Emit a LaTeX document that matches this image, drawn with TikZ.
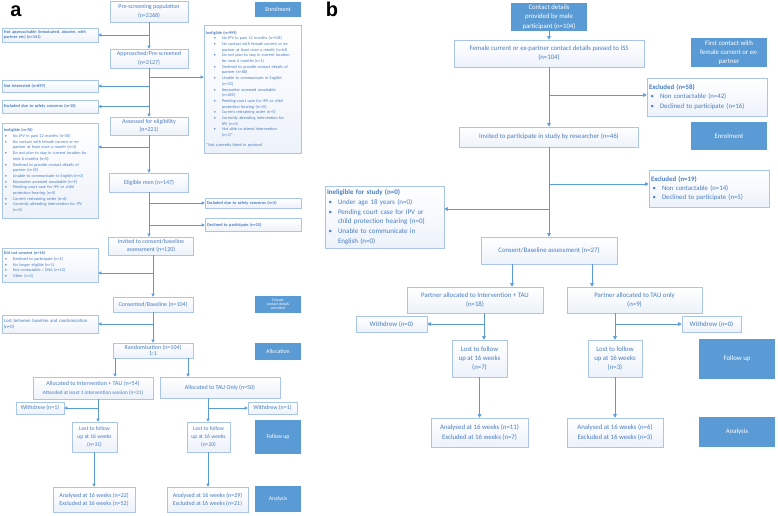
\documentclass[tikz,border=0pt]{standalone}
\usepackage{fontspec}
\setmainfont{Carlito}
\newfontfamily\lblfont{Liberation Sans}
\usetikzlibrary{arrows.meta}

\definecolor{linec}{HTML}{5B9BD5}
\definecolor{borderc}{HTML}{A9C5E8}
\definecolor{textc}{HTML}{4A7DC2}
\definecolor{boxbot}{HTML}{EDF2FA}
\definecolor{tagc}{HTML}{5B9BD5}

\setlength\parindent{0pt}
\newlength\bgap \setlength\bgap{6pt}
\newcommand\bitem[1]{\par\noindent\llap{\textbullet\hspace{\bgap}}#1}
\newcommand\fa{\fontsize{6}{8.4}\selectfont}
\newcommand\fas{\fontsize{4.2}{5.7}\selectfont}
\newcommand\fasb{\fontsize{4.3}{5.4}\selectfont\bfseries}
\newcommand\fb{\fontsize{6.8}{9.2}\selectfont}

\tikzset{
  sz/.style 2 args={minimum width=#1pt, minimum height=#2pt},
  box/.style={draw=borderc, line width=0.6pt, top color=white, bottom color=boxbot, text=textc, align=center, inner sep=1pt},
  lbox/.style={box, align=left, inner xsep=2pt, inner ysep=1.5pt},
  tag/.style={fill=tagc, text=white, align=center, inner sep=0.5pt},
  arr/.style={draw=linec, line width=0.6pt, -{Triangle[length=3pt,width=3pt]}},
  arrb/.style={arr, -{Triangle[length=3.6pt,width=3.6pt]}},
  panel/.style={font=\lblfont\bfseries\fontsize{20}{20}\selectfont, anchor=base, inner sep=0pt}
}

\begin{document}
\begin{tikzpicture}[x=1pt, y=-1pt]
  \useasboundingbox[fill=white] (0,0) rectangle (778,515);

  % Panel a
  \node[panel] (la) at (16,16) {a};

  \node[box, sz={78}{21}, font=\fa] (pre) at (149,11.5) {Pre-screening population\\(n=2268)};
  \node[box, sz={78}{19}, font=\fa] (appr) at (149,58.5) {Approached/Pre-screened\\(n=2127)};
  \node[box, sz={78}{18}, font=\fa] (assess) at (149,126) {Assessed for eligibility\\(n=221)};
  \node[box, sz={79}{19}, font=\fa] (elig) at (149,182.5) {Eligible men (n=147)};
  \node[box, sz={85}{18}, font=\fa] (invited) at (151,246) {Invited to consent/baseline\\assessment (n=120)};
  \node[box, sz={80}{15}, font=\fa] (consented) at (153,304.5) {Consented/Baseline (n=104)};
  \node[box, sz={80}{15}, font=\fontsize{6}{6.6}\selectfont] (random) at (153,350.5) {Randomisation (n=104)\\1:1};

  \node[box, sz={120}{22}, font=\fa] (allocI) at (93,388) {Allocated to Intervention + TAU (n=54)\\{\fontsize{5.3}{6}\selectfont Attended at least 1 intervention session (n=31)}};
  \node[box, sz={120}{21}, font=\fa] (allocT) at (220,387.5) {Allocated to TAU Only (n=50)};
  \node[box, sz={48}{12}, font=\fa] (wdL) at (40,408) {Withdrew (n=1)};
  \node[box, sz={49}{12}, font=\fa] (wdR) at (272.5,408) {Withdrew (n=1)};
  \node[box, sz={45}{30}, font=\fontsize{5.6}{7.8}\selectfont] (lostL) at (94.5,437) {Lost to follow\\up at 16 weeks\\(n=31)};
  \node[box, sz={43}{30}, font=\fontsize{5.6}{7.8}\selectfont] (lostR) at (208.5,437) {Lost to follow\\up at 16 weeks\\(n=20)};
  \node[box, sz={82}{25}, font=\fontsize{6}{7.5}\selectfont] (anL) at (94,499.5) {Analysed at 16 weeks (n=22)\\Excluded at 16 weeks (n=52)};
  \node[box, sz={81}{25}, font=\fontsize{6}{7.5}\selectfont] (anR) at (207.5,499.5) {Analysed at 16 weeks (n=29)\\Excluded at 16 weeks (n=21)};

  % side boxes a
  \node[lbox, text width=92pt, sz={96}{14}, font=\fasb] (notapp) at (50,35) {Not approachable (intoxicated, abusive, with\\partner etc) (n=141)};
  \node[lbox, text width=92pt, sz={96}{12}, font=\fasb] (notint) at (50,86) {Not interested (n=897)};
  \node[lbox, text width=92pt, sz={96}{13}, font=\fasb] (excl10) at (50,106.5) {Excluded due to safety concerns (n=10)};
  \node[lbox, text width=92pt, sz={96}{95}, font=\fas] (inelL) at (50,170.5) {\textbf{Ineligible (n=76)}\par\leftskip=9pt
    \bitem{No IPV in past 12 months (n=30)}
    \bitem{No contact with female current or ex-\\partner at least once a month (n=4)}
    \bitem{Do not plan to stay in current location for\\next 6 months (n=0)}
    \bitem{Declined to provide contact details of\\partner (n=25)}
    \bitem{Unable to communicate in English (n=0)}
    \bitem{Keyworker assessed unsuitable (n=9)}
    \bitem{Pending court case for IPV or child\\protection hearing (n=0)}
    \bitem{Current restraining order (n=6)}
    \bitem{Currently attending intervention for IPV\\(n=0)}\par};
  \node[lbox, text width=93pt, sz={97}{128}, font=\fas] (inelR) at (252.5,89) {\textbf{Ineligible (n=999)}\par\leftskip=16pt
    \bitem{No IPV in past 12 months (n=518)}
    \bitem{No contact with female current or ex-\\partner at least once a month (n=64)}
    \bitem{Do not plan to stay in current location\\for next 6 months (n=1)}
    \bitem{Declined to provide contact details of\\partner (n=88)}
    \bitem{Unable to communicate in English\\(n=33)}
    \bitem{Keyworker assessed unsuitable\\(n=285)}
    \bitem{Pending court case for IPV or child\\protection hearing (n=15)}
    \bitem{Current restraining order (n=5)}
    \bitem{Currently attending intervention for\\IPV (n=0)}
    \bitem{Not able to attend intervention\\(n=2)*}
    \par\leftskip=0pt\vspace{4pt}\noindent *Not currently listed in protocol\par};
  \node[lbox, text width=92pt, sz={96}{10}, font=\fasb] (excl2) at (253,203) {Excluded due to safety concerns (n=2)};
  \node[lbox, text width=92pt, sz={96}{13}, font=\fasb] (decl25) at (253,225) {Declined to participate (n=25)};
  \node[lbox, text width=92pt, sz={96}{34}, font=\fas] (notcons) at (50,265) {\textbf{Did not consent (n=16)}\par\leftskip=9pt
    \bitem{Declined to participate (n=1)}
    \bitem{No longer eligible (n=1)}
    \bitem{Not contactable / DNA (n=12)}
    \bitem{Other (n=2)}\par};
  \node[lbox, text width=92pt, sz={96}{18}, font=\fontsize{4.8}{6.3}\selectfont] (lostrand) at (50,324) {Lost between baseline and randomisation\\(n=0)};

  % stage tags a
  \node[tag, sz={46}{15}, font=\fontsize{6}{7}\selectfont] (enrolA) at (278,9.5) {Enrolment};
  \node[tag, sz={46}{17}, font=\fontsize{3.8}{4.3}\selectfont] (femA) at (278,304.5) {Female\\contact details\\provided};
  \node[tag, sz={46}{17}, font=\fontsize{5.8}{7}\selectfont] (allocA) at (278,351.5) {Allocation};
  \node[tag, sz={46}{34}, font=\fontsize{5.8}{7}\selectfont] (followA) at (278,437) {Follow up};
  \node[tag, sz={46}{26}, font=\fontsize{5.6}{7}\selectfont] (analysisA) at (278,499) {Analysis};

  % arrows a
  \draw[arr] (pre) -- (appr);
  \draw[arr] (pre.south |- notapp.east) -- (notapp.east);
  \draw[arr] (appr) -- (assess);
  \draw[arr] (appr.south |- 0,77) -- (inelR.west |- 0,77);
  \draw[arr] (appr.south |- notint.east) -- (notint.east);
  \draw[arr] (appr.south |- excl10.east) -- (excl10.east);
  \draw[arr] (assess) -- (elig);
  \draw[arr] (assess.south |- 0,147) -- (inelL.east |- 0,147);
  \draw[arr] (elig.south) -- (elig.south |- invited.north);
  \draw[arr] (elig.south |- excl2.west) -- (excl2.west);
  \draw[arr] (elig.south |- decl25.west) -- (decl25.west);
  \draw[arr] (invited.south -| consented.north) -- (consented.north);
  \draw[arr] (consented.north |- 0,273) -- (notcons.east |- 0,273);
  \draw[arr] (consented) -- (random);
  \draw[arr] (random.north |- lostrand.east) -- (lostrand.east);
  \draw[arr] (random.south -| 115,0) -- (allocI.north -| 115,0);
  \draw[arr] (random.south -| 188,0) -- (allocT.north -| 188,0);
  \draw[arr] (allocI.south -| 98,0) -- (lostL.north -| 98,0);
  \draw[arr] (wdL.east -| 98,0) -- (wdL.east);
  \draw[arr] (lostL.south -| 94,0) -- (anL.north -| 94,0);
  \draw[arr] (allocT.south -| 208,0) -- (lostR.north -| 208,0);
  \draw[arr] (wdR.west -| 208,0) -- (wdR.west);
  \draw[arr] (lostR.south -| 208,0) -- (anR.north -| 208,0);

  % Panel b
  \node[panel] (lb) at (332,16) {b};

  \node[tag, sz={76}{28}, font=\fb] (contact) at (549,17) {Contact details\\provided by male\\participant (n=104)};
  \node[box, sz={190}{27}, font=\fb] (female) at (549,53.5) {Female current or ex-partner contact details passed to ISS\\(n=104)};
  \node[tag, sz={76}{29}, font=\fb] (firstB) at (729,52.5) {First contact with\\female current or ex-\\partner};
  \node[lbox, text width=116pt, sz={120}{38}, font=\fb] (excl58) at (707,97) {\textbf{Excluded (n=58)}\par\leftskip=11pt
    \bitem{Non contactable (n=42)}
    \bitem{Declined to participate (n=16)}\par};
  \node[tag, sz={76}{28}, font=\fb] (enrolB) at (729,136) {Enrolment};
  \node[box, sz={179}{20}, font=\fb] (invB) at (549,137) {Invited to participate in study by researcher (n=46)};
  \node[lbox, text width=116pt, sz={120}{37}, font=\fb] (excl19) at (709,188.5) {\textbf{Excluded (n=19)}\par\leftskip=11pt
    \bitem{Non contactable (n=14)}
    \bitem{Declined to participate (n=5)}\par};
  \node[lbox, text width=115pt, sz={119}{62}, font=\fontsize{7}{9.8}\selectfont] (inelB) at (384.5,217) {\textbf{Ineligible for study (n=0)}\par\leftskip=11pt
    \bitem{Under age 18 years (n=0)}
    \bitem{Pending court case for IPV or\\child protection hearing (n=0)}
    \bitem{Unable to communicate in\\English (n=0)}\par};
  \node[box, sz={136}{27}, font=\fb] (consB) at (549,250.5) {Consent/Baseline assessment (n=27)};
  \node[box, sz={136}{26}, font=\fb] (pallI) at (475,300) {Partner allocated to Intervention + TAU\\(n=18)};
  \node[box, sz={135}{26}, font=\fb] (pallT) at (634.5,300) {Partner allocated to TAU only\\(n=9)};
  \node[box, sz={71}{16}, font=\fb] (wdBL) at (391.5,324) {Withdrew (n=0)};
  \node[box, sz={59}{16}, font=\fb] (wdBR) at (711.5,324) {Withdrew (n=0)};
  \node[box, sz={55}{37}, font=\fb] (lostBL) at (479.5,358.5) {Lost to follow\\up at 16 weeks\\(n=7)};
  \node[box, sz={54}{37}, font=\fb] (lostBR) at (615,358.5) {Lost to follow\\up at 16 weeks\\(n=3)};
  \node[box, sz={97}{29}, font=\fb] (anBL) at (479.5,432.5) {Analysed at 16 weeks (n=11)\\Excluded at 16 weeks (n=7)};
  \node[box, sz={96}{29}, font=\fb] (anBR) at (615,432.5) {Analysed at 16 weeks (n=6)\\Excluded at 16 weeks (n=3)};
  \node[tag, sz={76}{40}, font=\fb] (followB) at (737,359) {Follow up};
  \node[tag, sz={76}{30}, font=\fb] (analysisB) at (737,432) {Analysis};

  % arrows b
  \draw[arrb] (contact) -- (female);
  \draw[arrb] (female) -- (invB);
  \draw[arrb] (female.south |- 0,95) -- (excl58.west |- 0,95);
  \draw[arrb] (invB) -- (consB);
  \draw[arrb] (invB.south |- 0,184) -- (excl19.west |- 0,184);
  \draw[arrb] (invB.south |- 0,209) -- (inelB.east |- 0,209);
  \draw[arrb] (consB.south -| 512,0) -- (pallI.north -| 512,0);
  \draw[arrb] (consB.south -| 592,0) -- (pallT.north -| 592,0);
  \draw[arrb] (pallI.south -| 484,0) -- (lostBL.north -| 484,0);
  \draw[arrb] (wdBL.east -| 484,0) -- (wdBL.east);
  \draw[arrb] (lostBL) -- (anBL);
  \draw[arrb] (pallT.south -| 615,0) -- (lostBR.north -| 615,0);
  \draw[arrb] (wdBR.west -| 615,0) -- (wdBR.west);
  \draw[arrb] (lostBR) -- (anBR);
\end{tikzpicture}
\end{document}
